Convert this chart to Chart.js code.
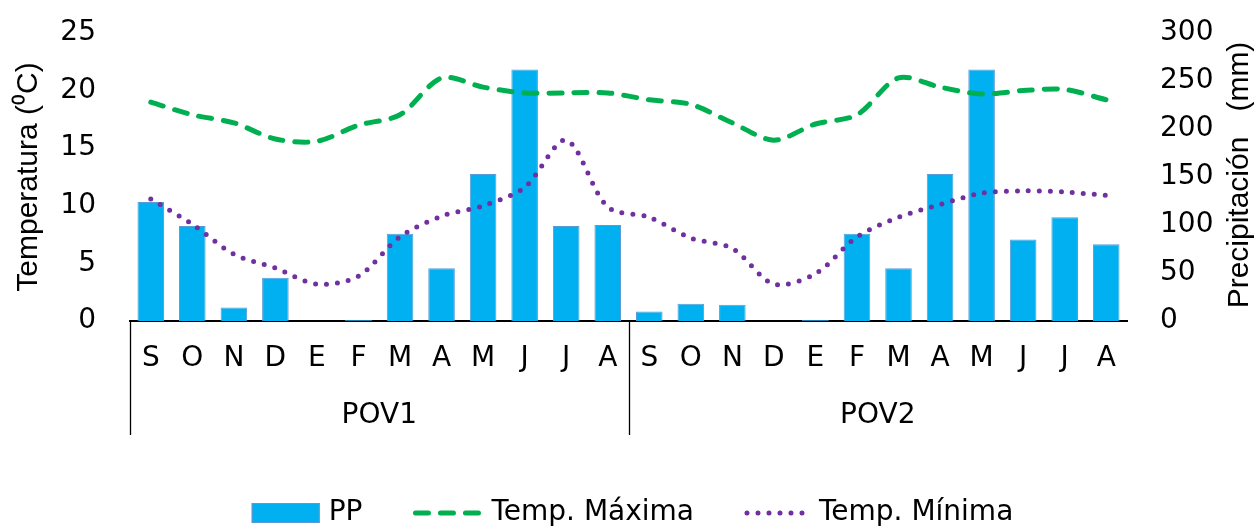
<!DOCTYPE html>
<html>
<head>
<meta charset="utf-8">
<script src="https://cdn.jsdelivr.net/npm/chart.js@4/dist/chart.umd.min.js"></script>
<style>
  html, body { margin: 0; padding: 0; background: #fff; }
  #wrap { width: 1259px; height: 527px; }
</style>
</head>
<body>
<div id="wrap"><canvas id="grafico"></canvas></div>
<script>
// meses de cada periodo (sep - ago)
var meses = ['S','O','N','D','E','F','M','A','M','J','J','A',
             'S','O','N','D','E','F','M','A','M','J','J','A'];
var periodos = ['POV1', 'POV2'];

// precipitacion (mm)
var pp = [124, 99, 14, 45, 0, 1, 91, 55, 153, 262, 99, 100,
          10, 18, 17, 0, 1, 91, 55, 153, 262, 85, 108, 80];
// temperatura maxima (C)
var tMax = [19.0, 17.9, 17.2, 15.8, 15.6, 17.0, 17.9, 21.1, 20.3, 19.8, 19.8, 19.8,
            19.2, 18.8, 17.2, 15.7, 17.1, 17.9, 21.1, 20.3, 19.7, 20.0, 20.1, 19.2];
// temperatura minima (C)
var tMin = [10.6, 8.4, 5.8, 4.6, 3.2, 3.9, 7.3, 9.1, 10.0, 11.6, 15.7, 9.9,
            9.0, 7.2, 6.3, 3.2, 4.1, 7.3, 9.0, 10.1, 11.1, 11.3, 11.2, 10.9];

var fuente = '"DejaVu Sans", sans-serif';
var fuenteTitulo = '"Liberation Sans", Arial, sans-serif';

// etiquetas de grupo (POV1 / POV2) y lineas separadoras bajo el eje x
var gruposPlugin = {
  id: 'grupos',
  afterDraw: function(chart) {
    var x = chart.scales.x;
    var ctx = chart.ctx;
    var n = meses.length / periodos.length;
    var paso = x.getPixelForValue(1) - x.getPixelForValue(0);
    var y0 = chart.chartArea.bottom;
    ctx.save();
    ctx.strokeStyle = '#000';
    ctx.lineWidth = 1.3;
    ctx.fillStyle = '#000';
    ctx.font = '28px ' + fuente;
    ctx.textAlign = 'center';
    ctx.textBaseline = 'middle';
    for (var g = 0; g < periodos.length; g++) {
      var xi = x.getPixelForValue(g * n) - paso / 2;
      var xf = x.getPixelForValue(g * n + n - 1) + paso / 2;
      ctx.beginPath();
      ctx.moveTo(Math.round(xi) + 0.5, y0);
      ctx.lineTo(Math.round(xi) + 0.5, y0 + 114);
      ctx.stroke();
      ctx.fillText(periodos[g], (xi + xf) / 2, y0 + 95);
    }
    ctx.restore();
  }
};

// titulo del eje derecho, leido de abajo hacia arriba
var tituloDerPlugin = {
  id: 'tituloDer',
  afterDraw: function(chart) {
    var ctx = chart.ctx;
    var ca = chart.chartArea;
    ctx.save();
    ctx.translate(1240, ca.top + 142);
    ctx.rotate(-Math.PI / 2);
    ctx.fillStyle = '#000';
    ctx.font = '30px ' + fuenteTitulo;
    ctx.textAlign = 'center';
    ctx.textBaseline = 'middle';
    ctx.fillText('Precipitación   (mm)', 0, 0);
    ctx.restore();
  }
};

// leyenda propia bajo el grafico
var leyendaPlugin = {
  id: 'leyenda',
  afterDraw: function(chart) {
    var ctx = chart.ctx;
    var ds = chart.data.datasets;
    var muestra = [68, 70, 66];
    var yC = 513;
    var sep = 50;
    ctx.save();
    ctx.font = '28px ' + fuente;
    ctx.textBaseline = 'middle';
    var total = 0;
    ds.forEach(function(d, i) {
      total += muestra[i] + 9 + ctx.measureText(d.label).width;
      if (i < ds.length - 1) total += sep;
    });
    var x = (chart.width - total) / 2 + 3;
    ds.forEach(function(d, i) {
      var w = muestra[i];
      if (d.type === 'bar') {
        ctx.fillStyle = d.backgroundColor;
        ctx.fillRect(x, yC - 10, w, 20);
        ctx.strokeStyle = d.borderColor;
        ctx.lineWidth = 1;
        ctx.strokeRect(x + 0.5, yC - 9.5, w - 1, 19);
      } else {
        ctx.strokeStyle = d.borderColor;
        ctx.lineWidth = d.borderWidth;
        ctx.lineCap = d.borderCapStyle;
        ctx.setLineDash(d.borderDash);
        ctx.beginPath();
        ctx.moveTo(x + 3, yC);
        ctx.lineTo(x + w - 2, yC);
        ctx.stroke();
        ctx.setLineDash([]);
      }
      x += w + 9;
      ctx.fillStyle = '#000';
      ctx.fillText(d.label, x, yC);
      x += ctx.measureText(d.label).width + sep;
    });
    ctx.restore();
  }
};

// recorta el margen vertical que Chart.js reserva para las etiquetas
function ajusteVertical(anchoEje) {
  return function(s) {
    s.width = anchoEje;
    s.paddingTop = 33;
    s.paddingBottom = 0;
  };
}

var ctx = document.getElementById('grafico').getContext('2d');
var grafico = new Chart(ctx, {
  type: 'bar',
  data: {
    labels: meses,
    datasets: [{
      type: 'bar',
      label: 'PP',
      data: pp,
      yAxisID: 'y1',
      backgroundColor: '#00b0f0',
      borderColor: '#5b9bd5',
      borderWidth: 1,
      categoryPercentage: 1.0,
      barPercentage: 0.64,
      order: 2
    }, {
      type: 'line',
      label: 'Temp. Máxima',
      data: tMax,
      yAxisID: 'y',
      borderColor: '#00b050',
      borderWidth: 5,
      borderDash: [13, 12],
      borderCapStyle: 'round',
      pointRadius: 0,
      tension: 0.3,
      fill: false,
      order: 1
    }, {
      type: 'line',
      label: 'Temp. Mínima',
      data: tMin,
      yAxisID: 'y',
      borderColor: '#7030a0',
      borderWidth: 5,
      borderDash: [0, 11],
      borderCapStyle: 'round',
      pointRadius: 0,
      tension: 0.3,
      fill: false,
      order: 1
    }]
  },
  options: {
    responsive: true,
    maintainAspectRatio: false,
    animation: false,
    layout: { padding: { top: 0, bottom: 86, left: 0, right: 0 } },
    scales: {
      x: {
        grid: { display: false },
        border: { display: true, color: '#000', width: 2 },
        ticks: { color: '#000', font: { family: fuente, size: 28 }, padding: 13, maxRotation: 0, autoSkip: false },
        afterFit: function(s) { s.height = 120; }
      },
      y: {
        position: 'left',
        min: 0, max: 25,
        grid: { display: false },
        border: { display: false },
        ticks: { stepSize: 5, color: '#000', font: { family: fuente, size: 28 }, padding: 26 },
        title: { display: true, text: 'Temperatura (⁰C)', color: '#000', font: { family: fuenteTitulo, size: 30 }, padding: { top: 11, bottom: 0 } },
        afterFit: ajusteVertical(130)
      },
      y1: {
        position: 'right',
        min: 0, max: 300,
        grid: { display: false },
        border: { display: false },
        ticks: { stepSize: 50, color: '#000', font: { family: fuente, size: 28 }, padding: 25 },
        afterFit: ajusteVertical(132)
      }
    },
    plugins: {
      tooltip: { enabled: false },
      legend: { display: false }
    }
  },
  plugins: [gruposPlugin, tituloDerPlugin, leyendaPlugin]
});
</script>
</body>
</html>
